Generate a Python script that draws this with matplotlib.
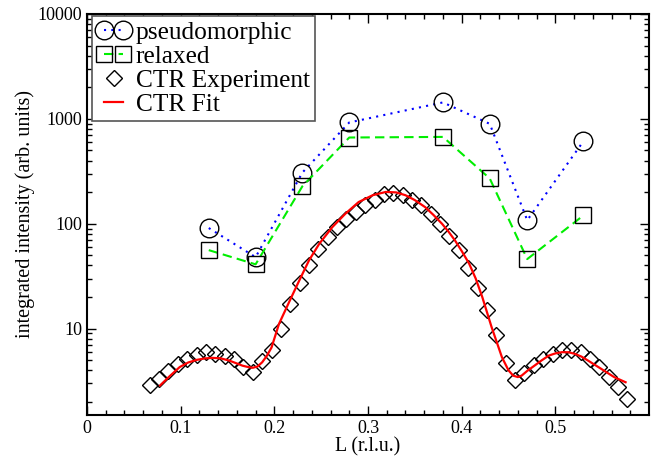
import matplotlib
matplotlib.use("Agg")
import matplotlib.pyplot as plt
from matplotlib.ticker import FixedLocator, FuncFormatter, LogLocator, NullFormatter
from matplotlib.legend_handler import HandlerLine2D

plt.rcParams['font.family'] = ['Liberation Serif', 'DejaVu Serif']

# model calculations
model_L = [0.13, 0.18, 0.23, 0.28, 0.38, 0.43, 0.47, 0.53]
pseudo_I = [91, 48, 308, 924, 1435, 896, 108, 612]
relaxed_L = [0.13, 0.18, 0.23, 0.28, 0.38, 0.43, 0.47, 0.53]
relaxed_I = [56, 41, 228, 664, 673, 270, 46, 120]

# measured crystal truncation rod
exp_L = [0.067, 0.077, 0.087, 0.097, 0.107, 0.117, 0.127, 0.137, 0.147, 0.157,
         0.167, 0.177, 0.187, 0.197, 0.207, 0.217, 0.227, 0.237, 0.247, 0.257,
         0.267, 0.277, 0.287, 0.297, 0.307, 0.317, 0.327, 0.337, 0.347, 0.357,
         0.367, 0.377, 0.387, 0.397, 0.407, 0.417, 0.427, 0.437, 0.447, 0.457,
         0.467, 0.477, 0.487, 0.497, 0.507, 0.517, 0.527, 0.537, 0.547, 0.557,
         0.567, 0.577]
exp_I = [2.9, 3.3, 3.9, 4.6, 5.1, 5.6, 6.0, 5.7, 5.5, 5.1,
         4.3, 3.85, 4.9, 6.3, 9.9, 17, 27, 40, 57, 74,
         94, 112, 129, 150, 167, 194, 196, 187, 170, 150,
         125, 100, 76, 56, 38, 24.5, 14.9, 8.6, 4.7, 3.2,
         3.8, 4.45, 5.15, 5.7, 6.2, 6.3, 6.0, 5.15, 4.3, 3.45,
         2.75, 2.15]

# fit curve
fit_L = [0.078, 0.088, 0.099, 0.108, 0.117, 0.126, 0.134, 0.143, 0.152, 0.160,
         0.166, 0.172, 0.177, 0.182, 0.187, 0.192, 0.197, 0.205, 0.215, 0.225,
         0.237, 0.248, 0.262, 0.276, 0.290, 0.305, 0.319, 0.330, 0.340, 0.350,
         0.361, 0.370, 0.379, 0.386, 0.393, 0.400, 0.408, 0.415, 0.422, 0.432,
         0.443, 0.450, 0.455, 0.460, 0.464, 0.470, 0.478, 0.485, 0.493, 0.500,
         0.507, 0.514, 0.521, 0.528, 0.535, 0.549, 0.563, 0.575]
fit_I = [2.87, 3.5, 4.3, 4.75, 5.03, 5.2, 5.26, 5.2, 4.95, 4.65,
         4.43, 4.3, 4.23, 4.35, 4.77, 5.5, 6.6, 11.1, 17.3, 26.8,
         44.7, 64.5, 93, 125, 161, 187, 201, 199, 187, 168,
         144, 121, 100, 84, 69, 55, 41.6, 30, 20, 10.3,
         5.33, 4.0, 3.56, 3.45, 3.56, 3.95, 4.45, 4.95, 5.53, 5.8,
         5.96, 5.95, 5.74, 5.4, 4.95, 4.13, 3.44, 3.08]

x_ticks = [0, 0.1, 0.2, 0.3, 0.4, 0.5]
x_ticklabels = ['0', '0.1', '0.2', '0.3', '0.4', '0.5']

fig = plt.figure(figsize=(6.57, 4.57), dpi=100)
ax = fig.add_axes([87/657, 1 - 415/457, 562/657, 401/457])

l_pseudo, = ax.plot(model_L, pseudo_I, color='blue', lw=1.5, ls=(0, (1, 2.5)),
                    marker='o', ms=13.4, mfc='none', mec='black', mew=1.0,
                    label='pseudomorphic')
l_relax, = ax.plot(relaxed_L, relaxed_I, color='#00ee00', lw=1.5, ls=(0, (4.5, 2.5)),
                   marker='s', ms=11.5, mfc='none', mec='black', mew=1.0,
                   label='relaxed')
l_exp, = ax.plot(exp_L, exp_I, ls='none', marker='D', ms=8.0, mfc='none',
                 mec='black', mew=1.0, label='CTR Experiment')
l_fit, = ax.plot(fit_L, fit_I, color='red', lw=1.6, label='CTR Fit')

ax.set_yscale('log')
ax.set_xlim(0, 0.6)
ax.set_ylim(1.5, 10000)

ax.xaxis.set_major_locator(FixedLocator(x_ticks))
ax.set_xticklabels(x_ticklabels)
ax.xaxis.set_minor_locator(FixedLocator([i * 0.02 for i in range(30)]))
ax.yaxis.set_major_locator(LogLocator(base=10))
ax.yaxis.set_major_formatter(FuncFormatter(lambda v, p: f"{v:g}"))
ax.yaxis.set_minor_locator(LogLocator(base=10, subs=range(2, 10)))
ax.yaxis.set_minor_formatter(NullFormatter())

ax.tick_params(which='both', direction='in', top=True, right=True, labelsize=13,
               width=1.0)
ax.tick_params(which='major', length=6.5)
ax.tick_params(which='minor', length=3.5)
for s in ax.spines.values():
    s.set_linewidth(1.5)

ax.set_xlabel('L (r.l.u.)', fontsize=14.3, labelpad=0)
ax.set_ylabel('integrated intensity (arb. units)', fontsize=14.5, labelpad=2)

pad = 0.3
leg = ax.legend(handles=[l_pseudo, l_relax, l_exp, l_fit], loc='upper left',
                bbox_to_anchor=(0.0084, 1 - 2/401), borderaxespad=0, fontsize=18.3,
                numpoints=1, handlelength=0.72 + pad, handletextpad=0.52,
                labelspacing=0.05, borderpad=0.2, fancybox=False,
                framealpha=1, edgecolor='#555555',
                handler_map={l_pseudo: HandlerLine2D(numpoints=2, marker_pad=0, xpad=pad),
                             l_relax: HandlerLine2D(numpoints=2, marker_pad=0, xpad=pad),
                             l_exp: HandlerLine2D(numpoints=1, xpad=pad),
                             l_fit: HandlerLine2D(numpoints=1, xpad=pad)})
leg.get_frame().set_linewidth(1.2)

fig.savefig('out.png', dpi=100)
